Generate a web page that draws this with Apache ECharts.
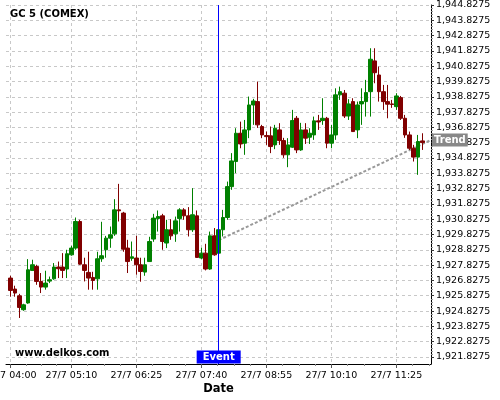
<!DOCTYPE html>
<html>
<head>
<meta charset="utf-8">
<script src="https://cdn.jsdelivr.net/npm/echarts@6/dist/echarts.min.js"></script>
<style>html,body{margin:0;padding:0;background:#fff}#c{width:500px;height:400px}</style>
</head>
<body>
<div id="c"></div>
<script>
// ---- data ----
const chartTitle = 'GC 5 (COMEX)';
const datePrefix = '27/7';
const times = ['04:00','04:05','04:10','04:15','04:20','04:25','04:30','04:35','04:40','04:45','04:50','04:55',
'05:00','05:05','05:10','05:15','05:20','05:25','05:30','05:35','05:40','05:45','05:50','05:55',
'06:00','06:05','06:10','06:15','06:20','06:25','06:30','06:35','06:40','06:45','06:50','06:55',
'07:00','07:05','07:10','07:15','07:20','07:25','07:30','07:35','07:40','07:45','07:50','07:55',
'08:00','08:05','08:10','08:15','08:20','08:25','08:30','08:35','08:40','08:45','08:50','08:55',
'09:00','09:05','09:10','09:15','09:20','09:25','09:30','09:35','09:40','09:45','09:50','09:55',
'10:00','10:05','10:10','10:15','10:20','10:25','10:30','10:35','10:40','10:45','10:50','10:55',
'11:00','11:05','11:10','11:15','11:20','11:25','11:30','11:35','11:40','11:45','11:50','11:55',
'12:00','12:05'];
const open = [1926.97,1926.25,1925.81,1924.90,1925.34,1927.47,1927.73,1926.75,1926.38,1926.77,
1926.92,1927.69,1927.69,1927.56,1928.49,1928.93,1930.67,1927.84,1927.34,1927.01,
1926.92,1928.23,1928.82,1929.58,1929.86,1931.43,1931.22,1928.93,1928.26,1928.28,
1927.84,1927.36,1928.05,1929.52,1930.86,1931.04,1929.26,1930.13,1929.86,1930.86,
1931.43,1931.04,1930.13,1931.04,1928.28,1928.60,1927.56,1929.73,1928.60,1930.13,
1930.93,1932.95,1934.59,1936.44,1935.79,1936.66,1938.29,1938.51,1936.88,1936.29,
1936.27,1935.68,1936.66,1935.96,1935.03,1935.53,1937.42,1935.35,1936.66,1936.18,
1936.33,1937.25,1937.27,1937.42,1935.79,1936.33,1938.95,1939.06,1937.57,1938.51,
1936.66,1938.36,1938.51,1939.16,1941.17,1940.25,1939.16,1938.51,1938.36,1938.18,
1938.77,1937.42,1936.33,1935.46,1934.88,1935.94];
const close = [1926.16,1925.99,1925.05,1925.22,1927.51,1927.84,1926.75,1926.38,1926.64,1926.86,
1927.69,1927.58,1927.47,1928.56,1928.93,1930.67,1927.88,1927.47,1926.97,1926.81,
1928.23,1928.43,1929.58,1929.80,1931.43,1931.37,1928.86,1928.05,1928.36,1927.84,
1927.40,1927.84,1929.36,1930.89,1930.99,1929.36,1930.13,1929.73,1930.71,1931.43,
1931.04,1930.13,1931.11,1928.32,1928.60,1927.56,1929.73,1928.49,1930.13,1930.93,
1932.95,1934.63,1936.44,1935.74,1936.66,1938.29,1938.55,1936.99,1936.33,1936.22,
1935.57,1936.77,1935.96,1935.03,1935.68,1937.27,1935.35,1936.66,1936.12,1936.44,
1937.25,1937.18,1937.42,1935.79,1936.33,1938.95,1939.16,1937.57,1938.36,1936.55,
1938.29,1938.51,1939.10,1941.28,1940.40,1939.16,1938.51,1938.34,1938.32,1938.88,
1937.42,1936.33,1935.46,1934.88,1935.90,1935.83];
const low = [1925.75,1925.75,1924.36,1924.83,1925.29,1927.45,1926.53,1925.99,1926.21,1926.64,
1926.86,1926.97,1926.97,1926.97,1928.43,1928.82,1927.84,1926.75,1926.21,1926.21,
1926.21,1928.03,1928.30,1928.95,1929.73,1930.67,1928.69,1927.30,1928.10,1927.19,
1926.73,1927.12,1928.03,1929.34,1930.01,1928.82,1928.93,1929.47,1929.34,1930.01,
1930.78,1929.69,1929.99,1928.30,1928.21,1927.47,1927.51,1928.43,1928.56,1929.69,
1930.78,1932.74,1933.83,1935.46,1935.03,1936.12,1936.99,1936.79,1936.12,1935.68,
1935.14,1935.40,1935.68,1934.83,1934.22,1935.48,1935.14,1935.29,1935.74,1935.74,
1936.01,1936.66,1936.99,1935.46,1935.46,1936.01,1938.62,1937.44,1937.31,1936.53,
1936.12,1936.99,1937.53,1937.53,1939.71,1938.51,1937.97,1937.42,1938.10,1937.97,
1937.31,1936.14,1935.35,1934.59,1933.72,1935.35];
const high = [1927.12,1926.47,1925.94,1925.29,1928.21,1928.17,1927.84,1927.30,1927.45,1927.07,
1927.95,1928.05,1928.60,1928.82,1929.08,1930.93,1930.78,1928.30,1928.69,1927.38,
1928.69,1930.65,1929.73,1930.34,1932.13,1933.13,1931.30,1929.47,1929.36,1929.73,
1928.30,1928.30,1929.67,1931.17,1931.39,1931.17,1930.78,1930.82,1930.99,1931.54,
1931.54,1931.61,1932.85,1931.39,1928.95,1929.21,1930.01,1930.24,1930.26,1931.43,
1933.28,1935.14,1936.77,1937.20,1937.31,1938.84,1938.69,1939.82,1936.99,1936.55,
1936.88,1936.99,1937.10,1936.14,1936.12,1937.97,1937.57,1937.12,1937.10,1936.77,
1937.53,1937.64,1938.73,1937.51,1936.99,1939.38,1939.49,1939.27,1938.67,1938.73,
1938.51,1939.38,1939.93,1942.00,1942.00,1940.80,1939.60,1939.60,1938.62,1939.06,
1938.88,1937.64,1936.55,1935.68,1936.33,1936.44];
const eventTime = '08:00';
const eventLabel = 'Event';
const trendTimes = ['08:00', '12:05'];
const trendValues = [1929.45, 1936.0];
const trendLabel = 'Trend';
// x tick labels: first label, then every 75 minutes from 05:10
const xFirstLabel = '04:00', xTickStart = '05:10', xTickStep = 75, xMinorStep = 18.75;
// y scale and tick labels
const yMin = 1921.35, yMax = 1944.8275;
const yTickMin = 1921.8275, yTickMax = 1944.8275, yTickStep = 1;
const watermark = 'www.delkos.com';
const xAxisName = 'Date';

// ---- helpers ----
function toMin(t){ const p = t.split(':'); return (+p[0])*60 + (+p[1]); }
function fmtY(v){
  const s = v.toFixed(4); const parts = s.split('.');
  return parts[0].replace(/\B(?=(\d{3})+(?!\d))/g, ',') + '.' + parts[1];
}
const yFrac = yTickMin - Math.floor(yTickMin);
const t0 = toMin(times[0]);
const tickStartMin = toMin(xTickStart);
const isMajor = t => t === xFirstLabel ||
  (toMin(t) >= tickStartMin && (toMin(t) - tickStartMin) % xTickStep === 0);
const majorInterval = (idx, val) => isMajor(val);

// minor tick sub-axis: 1.25 minute slots over the same time span
const minorSlot = 1.25;
const spanMin = toMin(times[times.length - 1]) - t0;
const minorCats = [];
for (let m = 0; m <= spanMin + 1e-9; m += minorSlot) minorCats.push(String(m));
function isMinor(m){
  const rel = m - (tickStartMin - t0);
  if (rel < 0) {
    const firstSeg = (tickStartMin - t0) / 4;
    return m > 0 && Math.abs(m / firstSeg - Math.round(m / firstSeg)) < 1e-6;
  }
  const q = rel / xMinorStep;
  return Math.abs(q - Math.round(q)) < 1e-6 && Math.round(q) % 4 !== 0;
}
const minorInterval = (idx, val) => isMinor(+val);

const candleData = open.map((o, i) => [o, close[i], low[i], high[i]]);
const trendData = trendTimes.map((t, i) => [t, trendValues[i]]);

const FONT = 'DejaVu Sans';
const base = {right: 69, top: 5, outerBoundsMode: 'none', containLabel: false};
const splitStyle = {color: '#c8c8c8', type: [3, 3], width: 1};

const chart = echarts.init(document.getElementById('c'), null, {renderer: 'canvas'});
chart.setOption({
  animation: false,
  backgroundColor: '#ffffff',
  textStyle: {fontFamily: FONT},
  title: {
    text: chartTitle, left: 10, top: 9, padding: 0,
    textStyle: {fontFamily: FONT, fontSize: 10, fontWeight: 'bold', color: '#000'}
  },
  graphic: [{
    type: 'text', left: 15, top: 348, z: 10,
    style: {text: watermark, font: 'bold 10px "DejaVu Sans"', fill: '#000'}
  }],
  grid: [
    Object.assign({left: 10.7, bottom: 36}, base),   // 0: data
    Object.assign({left: 6, bottom: 36}, base),      // 1: frame (x axis line + name)
    Object.assign({left: 6, bottom: 43}, base)       // 2: y tick labels / horizontal grid
  ],
  xAxis: [
    {
      gridIndex: 0, type: 'category', data: times, boundaryGap: false, position: 'bottom',
      axisLine: {show: false, onZero: false},
      axisTick: {show: true, length: 4, interval: majorInterval, lineStyle: {color: '#555'}},
      axisLabel: {
        show: true, interval: majorInterval, margin: 7,
        fontFamily: FONT, fontSize: 9.5, color: '#000',
        formatter: v => datePrefix + ' ' + v
      },
      splitLine: {show: true, interval: majorInterval, lineStyle: splitStyle}
    },
    {
      gridIndex: 0, type: 'category', data: minorCats, boundaryGap: false, position: 'bottom',
      axisLine: {show: false, onZero: false},
      axisTick: {show: true, length: 2, interval: minorInterval, lineStyle: {color: '#888'}},
      axisLabel: {show: false}, splitLine: {show: false}
    },
    {
      gridIndex: 1, type: 'value', min: 0, max: 1, position: 'bottom',
      axisLine: {show: true, onZero: false, lineStyle: {color: '#000', width: 1}},
      axisTick: {show: false}, axisLabel: {show: false}, splitLine: {show: false},
      name: xAxisName, nameLocation: 'middle', nameGap: 19,
      nameTextStyle: {fontFamily: FONT, fontSize: 11.5, fontWeight: 'bold', color: '#000'}
    },
    {gridIndex: 2, type: 'value', min: 0, max: 1, show: false}
  ],
  yAxis: [
    {
      gridIndex: 0, type: 'value', position: 'right', min: yMin, max: yMax,
      axisLine: {show: true, onZero: false, lineStyle: {color: '#000', width: 1}},
      axisTick: {show: false}, axisLabel: {show: false}, splitLine: {show: false}
    },
    {gridIndex: 1, type: 'value', min: 0, max: 1, show: false},
    {
      gridIndex: 2, type: 'value', position: 'right',
      min: yTickMin, max: yTickMax, interval: yTickStep,
      axisLine: {show: false, onZero: false},
      axisTick: {show: true, length: 3, lineStyle: {color: '#333'}},
      minorTick: {show: true, splitNumber: 5, length: 2, lineStyle: {color: '#999'}},
      axisLabel: {
        show: true, showMinLabel: true, showMaxLabel: true, margin: 5,
        fontFamily: FONT, fontSize: 9.5, color: '#000',
        formatter: v => fmtY(Math.floor(v + 1e-6) + yFrac)
      },
      splitLine: {show: true, lineStyle: splitStyle}
    }
  ],
  series: [
    {
      type: 'line', xAxisIndex: 0, yAxisIndex: 0, data: trendData,
      symbol: 'none', showSymbol: false, silent: true, clip: false, z: 2,
      lineStyle: {color: '#999', width: 2, type: [3, 2]},
      endLabel: {
        show: true, formatter: trendLabel, distance: 1,
        fontFamily: FONT, fontSize: 10, fontWeight: 'bold', color: '#fff',
        backgroundColor: '#888', padding: [2, 2, 1, 2]
      }
    },
    {
      type: 'candlestick', xAxisIndex: 0, yAxisIndex: 0, data: candleData,
      barWidth: 4, clip: false, z: 3, silent: true,
      itemStyle: {color: '#008000', color0: '#800000', borderColor: '#008000', borderColor0: '#800000', borderWidth: 1},
      markLine: {
        silent: true, symbol: ['none', 'none'], animation: false,
        label: {show: false},
        lineStyle: {color: '#0000ff', width: 1, type: 'solid'},
        data: [{xAxis: eventTime}]
      },
      markPoint: {
        silent: true, animation: false, symbol: 'rect', symbolSize: 1,
        itemStyle: {color: 'rgba(0,0,0,0)'},
        label: {
          show: true, position: 'top', distance: 0, formatter: eventLabel,
          fontFamily: FONT, fontSize: 10, fontWeight: 'bold', color: '#fff',
          backgroundColor: '#0000ff', padding: [2, 6, 1, 6]
        },
        data: [{coord: [eventTime, yMin]}]
      }
    }
  ]
});
</script>
</body>
</html>
